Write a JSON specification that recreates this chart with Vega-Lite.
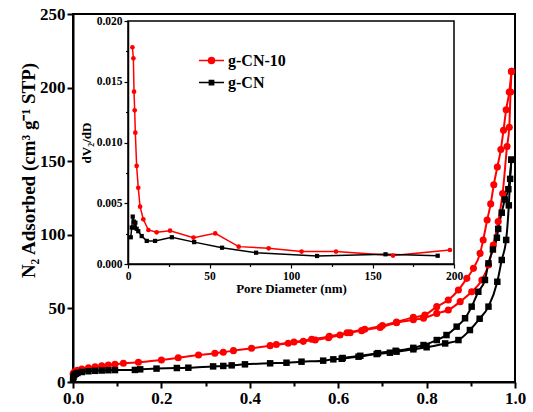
{
  "$schema": "https://vega.github.io/schema/vega-lite/v6.json",
  "width": 442,
  "height": 368,
  "autosize": {"type": "none"},
  "padding": {"left": 73, "top": 14, "right": 18, "bottom": 30},
  "background": "white",
  "config": {
    "font": "Liberation Serif",
    "view": {"stroke": "black", "strokeWidth": 2},
    "axis": {"grid": false, "domainColor": "black", "tickColor": "black", "labelColor": "black", "titleColor": "black", "labelFont": "Liberation Serif", "titleFont": "Liberation Serif", "labelFontWeight": "bold", "titleFontWeight": "bold", "labelFlush": false, "labelOverlap": false}
  },
  "datasets": {
    "iso": [
      {"sample": "g-CN-10", "branch": "ads", "P": 0.0003, "V": 5.5},
      {"sample": "g-CN-10", "branch": "ads", "P": 0.002, "V": 6.5},
      {"sample": "g-CN-10", "branch": "ads", "P": 0.005, "V": 7.3},
      {"sample": "g-CN-10", "branch": "ads", "P": 0.01, "V": 8},
      {"sample": "g-CN-10", "branch": "ads", "P": 0.02, "V": 8.8},
      {"sample": "g-CN-10", "branch": "ads", "P": 0.035, "V": 9.7},
      {"sample": "g-CN-10", "branch": "ads", "P": 0.05, "V": 10.4},
      {"sample": "g-CN-10", "branch": "ads", "P": 0.065, "V": 11},
      {"sample": "g-CN-10", "branch": "ads", "P": 0.08, "V": 11.5},
      {"sample": "g-CN-10", "branch": "ads", "P": 0.095, "V": 12},
      {"sample": "g-CN-10", "branch": "ads", "P": 0.114, "V": 12.7},
      {"sample": "g-CN-10", "branch": "ads", "P": 0.148, "V": 13.4},
      {"sample": "g-CN-10", "branch": "ads", "P": 0.2, "V": 14.9},
      {"sample": "g-CN-10", "branch": "ads", "P": 0.238, "V": 16.5},
      {"sample": "g-CN-10", "branch": "ads", "P": 0.284, "V": 18.3},
      {"sample": "g-CN-10", "branch": "ads", "P": 0.321, "V": 19.5},
      {"sample": "g-CN-10", "branch": "ads", "P": 0.34, "V": 20.2},
      {"sample": "g-CN-10", "branch": "ads", "P": 0.363, "V": 21.3},
      {"sample": "g-CN-10", "branch": "ads", "P": 0.404, "V": 22.9},
      {"sample": "g-CN-10", "branch": "ads", "P": 0.446, "V": 24.7},
      {"sample": "g-CN-10", "branch": "ads", "P": 0.487, "V": 26.3},
      {"sample": "g-CN-10", "branch": "ads", "P": 0.521, "V": 27.6},
      {"sample": "g-CN-10", "branch": "ads", "P": 0.548, "V": 28.5},
      {"sample": "g-CN-10", "branch": "ads", "P": 0.578, "V": 30.1},
      {"sample": "g-CN-10", "branch": "ads", "P": 0.604, "V": 31.9},
      {"sample": "g-CN-10", "branch": "ads", "P": 0.627, "V": 33.5},
      {"sample": "g-CN-10", "branch": "ads", "P": 0.653, "V": 34.9},
      {"sample": "g-CN-10", "branch": "ads", "P": 0.695, "V": 37.1},
      {"sample": "g-CN-10", "branch": "ads", "P": 0.732, "V": 40.3},
      {"sample": "g-CN-10", "branch": "ads", "P": 0.77, "V": 42.3},
      {"sample": "g-CN-10", "branch": "ads", "P": 0.793, "V": 43.3},
      {"sample": "g-CN-10", "branch": "ads", "P": 0.823, "V": 46.6},
      {"sample": "g-CN-10", "branch": "ads", "P": 0.849, "V": 48.9},
      {"sample": "g-CN-10", "branch": "ads", "P": 0.876, "V": 54.6},
      {"sample": "g-CN-10", "branch": "ads", "P": 0.902, "V": 61.3},
      {"sample": "g-CN-10", "branch": "ads", "P": 0.925, "V": 69.3},
      {"sample": "g-CN-10", "branch": "ads", "P": 0.94, "V": 79.5},
      {"sample": "g-CN-10", "branch": "ads", "P": 0.951, "V": 93},
      {"sample": "g-CN-10", "branch": "ads", "P": 0.962, "V": 109},
      {"sample": "g-CN-10", "branch": "ads", "P": 0.972, "V": 128},
      {"sample": "g-CN-10", "branch": "ads", "P": 0.982, "V": 160},
      {"sample": "g-CN-10", "branch": "ads", "P": 0.987, "V": 173},
      {"sample": "g-CN-10", "branch": "ads", "P": 0.99, "V": 197},
      {"sample": "g-CN-10", "branch": "ads", "P": 0.992, "V": 211},
      {"sample": "g-CN-10", "branch": "des", "P": 0.992, "V": 211},
      {"sample": "g-CN-10", "branch": "des", "P": 0.987, "V": 197},
      {"sample": "g-CN-10", "branch": "des", "P": 0.98, "V": 185},
      {"sample": "g-CN-10", "branch": "des", "P": 0.974, "V": 171},
      {"sample": "g-CN-10", "branch": "des", "P": 0.968, "V": 158},
      {"sample": "g-CN-10", "branch": "des", "P": 0.96, "V": 146},
      {"sample": "g-CN-10", "branch": "des", "P": 0.952, "V": 134},
      {"sample": "g-CN-10", "branch": "des", "P": 0.945, "V": 121},
      {"sample": "g-CN-10", "branch": "des", "P": 0.937, "V": 110},
      {"sample": "g-CN-10", "branch": "des", "P": 0.928, "V": 96.5},
      {"sample": "g-CN-10", "branch": "des", "P": 0.921, "V": 87.4},
      {"sample": "g-CN-10", "branch": "des", "P": 0.906, "V": 77.2},
      {"sample": "g-CN-10", "branch": "des", "P": 0.891, "V": 70.4},
      {"sample": "g-CN-10", "branch": "des", "P": 0.872, "V": 62.5},
      {"sample": "g-CN-10", "branch": "des", "P": 0.849, "V": 55.7},
      {"sample": "g-CN-10", "branch": "des", "P": 0.823, "V": 51.2},
      {"sample": "g-CN-10", "branch": "des", "P": 0.796, "V": 45.5},
      {"sample": "g-CN-10", "branch": "des", "P": 0.77, "V": 43.9},
      {"sample": "g-CN-10", "branch": "des", "P": 0.732, "V": 40.8},
      {"sample": "g-CN-10", "branch": "des", "P": 0.7, "V": 38.3},
      {"sample": "g-CN-10", "branch": "des", "P": 0.66, "V": 35.8},
      {"sample": "g-CN-10", "branch": "des", "P": 0.62, "V": 33.5},
      {"sample": "g-CN-10", "branch": "des", "P": 0.58, "V": 31},
      {"sample": "g-CN-10", "branch": "des", "P": 0.54, "V": 29},
      {"sample": "g-CN-10", "branch": "des", "P": 0.5, "V": 27.2},
      {"sample": "g-CN-10", "branch": "des", "P": 0.46, "V": 25.5},
      {"sample": "g-CN", "branch": "ads", "P": 0.0002, "V": 1.5},
      {"sample": "g-CN", "branch": "ads", "P": 0.001, "V": 3.5},
      {"sample": "g-CN", "branch": "ads", "P": 0.003, "V": 4.8},
      {"sample": "g-CN", "branch": "ads", "P": 0.006, "V": 5.6},
      {"sample": "g-CN", "branch": "ads", "P": 0.01, "V": 6.1},
      {"sample": "g-CN", "branch": "ads", "P": 0.02, "V": 6.8},
      {"sample": "g-CN", "branch": "ads", "P": 0.035, "V": 7.3},
      {"sample": "g-CN", "branch": "ads", "P": 0.05, "V": 7.6},
      {"sample": "g-CN", "branch": "ads", "P": 0.065, "V": 7.8},
      {"sample": "g-CN", "branch": "ads", "P": 0.08, "V": 8},
      {"sample": "g-CN", "branch": "ads", "P": 0.095, "V": 8.1},
      {"sample": "g-CN", "branch": "ads", "P": 0.14, "V": 8.2},
      {"sample": "g-CN", "branch": "ads", "P": 0.152, "V": 8.6},
      {"sample": "g-CN", "branch": "ads", "P": 0.189, "V": 9.1},
      {"sample": "g-CN", "branch": "ads", "P": 0.235, "V": 9.5},
      {"sample": "g-CN", "branch": "ads", "P": 0.261, "V": 9.7},
      {"sample": "g-CN", "branch": "ads", "P": 0.317, "V": 10.6},
      {"sample": "g-CN", "branch": "ads", "P": 0.34, "V": 10.9},
      {"sample": "g-CN", "branch": "ads", "P": 0.359, "V": 11.3},
      {"sample": "g-CN", "branch": "ads", "P": 0.389, "V": 12},
      {"sample": "g-CN", "branch": "ads", "P": 0.446, "V": 12.7},
      {"sample": "g-CN", "branch": "ads", "P": 0.483, "V": 13.1},
      {"sample": "g-CN", "branch": "ads", "P": 0.517, "V": 13.8},
      {"sample": "g-CN", "branch": "ads", "P": 0.566, "V": 14.5},
      {"sample": "g-CN", "branch": "ads", "P": 0.589, "V": 15.4},
      {"sample": "g-CN", "branch": "ads", "P": 0.608, "V": 15.8},
      {"sample": "g-CN", "branch": "ads", "P": 0.646, "V": 17.2},
      {"sample": "g-CN", "branch": "ads", "P": 0.687, "V": 19},
      {"sample": "g-CN", "branch": "ads", "P": 0.717, "V": 19.9},
      {"sample": "g-CN", "branch": "ads", "P": 0.732, "V": 20.6},
      {"sample": "g-CN", "branch": "ads", "P": 0.77, "V": 22.2},
      {"sample": "g-CN", "branch": "ads", "P": 0.8, "V": 23.6},
      {"sample": "g-CN", "branch": "ads", "P": 0.842, "V": 26.2},
      {"sample": "g-CN", "branch": "ads", "P": 0.872, "V": 28.5},
      {"sample": "g-CN", "branch": "ads", "P": 0.898, "V": 35.3},
      {"sample": "g-CN", "branch": "ads", "P": 0.92, "V": 43},
      {"sample": "g-CN", "branch": "ads", "P": 0.94, "V": 51.2},
      {"sample": "g-CN", "branch": "ads", "P": 0.96, "V": 68.1},
      {"sample": "g-CN", "branch": "ads", "P": 0.97, "V": 82.9},
      {"sample": "g-CN", "branch": "ads", "P": 0.98, "V": 96.5},
      {"sample": "g-CN", "branch": "ads", "P": 0.986, "V": 120},
      {"sample": "g-CN", "branch": "ads", "P": 0.989, "V": 138},
      {"sample": "g-CN", "branch": "ads", "P": 0.992, "V": 151},
      {"sample": "g-CN", "branch": "des", "P": 0.992, "V": 151},
      {"sample": "g-CN", "branch": "des", "P": 0.985, "V": 131},
      {"sample": "g-CN", "branch": "des", "P": 0.977, "V": 124},
      {"sample": "g-CN", "branch": "des", "P": 0.97, "V": 115},
      {"sample": "g-CN", "branch": "des", "P": 0.962, "V": 104},
      {"sample": "g-CN", "branch": "des", "P": 0.959, "V": 98},
      {"sample": "g-CN", "branch": "des", "P": 0.95, "V": 90},
      {"sample": "g-CN", "branch": "des", "P": 0.94, "V": 80.6},
      {"sample": "g-CN", "branch": "des", "P": 0.932, "V": 69.3},
      {"sample": "g-CN", "branch": "des", "P": 0.917, "V": 61.3},
      {"sample": "g-CN", "branch": "des", "P": 0.902, "V": 51.2},
      {"sample": "g-CN", "branch": "des", "P": 0.887, "V": 43.3},
      {"sample": "g-CN", "branch": "des", "P": 0.868, "V": 37.6},
      {"sample": "g-CN", "branch": "des", "P": 0.845, "V": 31.9},
      {"sample": "g-CN", "branch": "des", "P": 0.823, "V": 28.5},
      {"sample": "g-CN", "branch": "des", "P": 0.793, "V": 25.1},
      {"sample": "g-CN", "branch": "des", "P": 0.77, "V": 23.2},
      {"sample": "g-CN", "branch": "des", "P": 0.73, "V": 21.2},
      {"sample": "g-CN", "branch": "des", "P": 0.69, "V": 19.6},
      {"sample": "g-CN", "branch": "des", "P": 0.65, "V": 17.8},
      {"sample": "g-CN", "branch": "des", "P": 0.61, "V": 16.3}
    ],
    "pore": [
      {"sample": "g-CN-10", "D": 2.7, "dv": 0.01784},
      {"sample": "g-CN-10", "D": 3.3, "dv": 0.01693},
      {"sample": "g-CN-10", "D": 3.7, "dv": 0.01418},
      {"sample": "g-CN-10", "D": 4.1, "dv": 0.01265},
      {"sample": "g-CN-10", "D": 4.5, "dv": 0.01081},
      {"sample": "g-CN-10", "D": 5.3, "dv": 0.00807},
      {"sample": "g-CN-10", "D": 6.3, "dv": 0.00627},
      {"sample": "g-CN-10", "D": 7.4, "dv": 0.00472},
      {"sample": "g-CN-10", "D": 9.4, "dv": 0.00368},
      {"sample": "g-CN-10", "D": 12.5, "dv": 0.0028},
      {"sample": "g-CN-10", "D": 17.6, "dv": 0.00261},
      {"sample": "g-CN-10", "D": 25.8, "dv": 0.00274},
      {"sample": "g-CN-10", "D": 40.2, "dv": 0.00217},
      {"sample": "g-CN-10", "D": 53.5, "dv": 0.00252},
      {"sample": "g-CN-10", "D": 67.9, "dv": 0.00143},
      {"sample": "g-CN-10", "D": 86.3, "dv": 0.00129},
      {"sample": "g-CN-10", "D": 106.5, "dv": 0.00102},
      {"sample": "g-CN-10", "D": 127.6, "dv": 0.00102},
      {"sample": "g-CN-10", "D": 162.6, "dv": 0.00069},
      {"sample": "g-CN-10", "D": 197.5, "dv": 0.00115},
      {"sample": "g-CN", "D": 1.7, "dv": 0.0022},
      {"sample": "g-CN", "D": 2.3, "dv": 0.003},
      {"sample": "g-CN", "D": 2.9, "dv": 0.0039},
      {"sample": "g-CN", "D": 3.5, "dv": 0.0035},
      {"sample": "g-CN", "D": 4.0, "dv": 0.003},
      {"sample": "g-CN", "D": 4.5, "dv": 0.0034},
      {"sample": "g-CN", "D": 5.3, "dv": 0.0029},
      {"sample": "g-CN", "D": 6.3, "dv": 0.0027},
      {"sample": "g-CN", "D": 8.4, "dv": 0.0023},
      {"sample": "g-CN", "D": 11.5, "dv": 0.0019},
      {"sample": "g-CN", "D": 16.6, "dv": 0.0019},
      {"sample": "g-CN", "D": 26.9, "dv": 0.0022},
      {"sample": "g-CN", "D": 40.6, "dv": 0.0018},
      {"sample": "g-CN", "D": 57.7, "dv": 0.00134},
      {"sample": "g-CN", "D": 78.6, "dv": 0.00093},
      {"sample": "g-CN", "D": 116, "dv": 0.00066},
      {"sample": "g-CN", "D": 158, "dv": 0.0008},
      {"sample": "g-CN", "D": 190, "dv": 0.00068}
    ]
  },
  "layer": [
    {
      "data": {"name": "iso"},
      "layer": [
        {
          "mark": {"type": "line", "strokeWidth": 2, "interpolate": "monotone"},
          "encoding": {
            "x": {"field": "P", "type": "quantitative", "title": null,
              "scale": {"domain": [0, 1], "nice": false},
              "axis": {"values": [0, 0.1, 0.2, 0.3, 0.4, 0.5, 0.6, 0.7, 0.8, 0.9, 1.0],
                "labelExpr": "round(datum.value*10)%2==0 ? format(datum.value,'.1f') : ''",
                "tickSize": {"condition": {"test": "round(datum.value*10)%2==0", "value": 6}, "value": 4},
                "tickWidth": 2, "domainWidth": 2, "labelFontSize": 17, "labelPadding": 2}},
            "y": {"field": "V", "type": "quantitative", "title": "N₂ Adsorbed (cm³ g⁻¹ STP)",
              "scale": {"domain": [0, 250], "nice": false},
              "axis": {"values": [0, 25, 50, 75, 100, 125, 150, 175, 200, 225, 250],
                "labelExpr": "datum.value % 50 == 0 ? format(datum.value,'d') : ''",
                "tickSize": {"condition": {"test": "datum.value % 50 == 0", "value": 6}, "value": 4},
                "tickWidth": 2, "domainWidth": 2, "labelFontSize": 17, "labelPadding": 2,
                "titleFontSize": 19, "titleX": -45, "titleY": 156, "titleAngle": -90, "titleAlign": "center", "titleBaseline": "middle"}},
            "color": {"field": "sample", "type": "nominal",
              "scale": {"domain": ["g-CN-10", "g-CN"], "range": ["#ff0000", "#000000"]},
              "legend": {"orient": "none", "legendX": 125, "legendY": 33, "title": null,
                "symbolSize": 625, "labelFontSize": 16, "labelFont": "Liberation Serif", "labelFontWeight": "bold", "labelColor": "black",
                "labelOffset": 3, "rowPadding": -7,
                "encode": {"symbols": {"update": {
                  "shape": {"signal": "datum.value === 'g-CN' ? 'M-1,0H1M-0.17,-0.17H0.17V0.17H-0.17Z' : 'M-1,0H1M0.24,0A0.24,0.24 0 1,1 -0.24,0A0.24,0.24 0 1,1 0.24,0Z'"},
                  "fill": {"signal": "datum.value === 'g-CN' ? '#000000' : '#ff0000'"},
                  "stroke": {"signal": "datum.value === 'g-CN' ? '#000000' : '#ff0000'"},
                  "strokeWidth": {"value": 1.5},
                  "opacity": {"value": 1}, "fillOpacity": {"value": 1}, "strokeOpacity": {"value": 1}}}}}},
            "detail": {"field": "branch", "type": "nominal"}
          }
        },
        {
          "transform": [{"filter": "datum.sample == 'g-CN-10'"}],
          "mark": {"type": "point", "shape": "circle", "filled": true, "size": 50, "opacity": 1},
          "encoding": {
            "x": {"field": "P", "type": "quantitative", "title": null},
            "y": {"field": "V", "type": "quantitative", "title": "N₂ Adsorbed (cm³ g⁻¹ STP)"},
            "color": {"field": "sample", "type": "nominal"}
          }
        },
        {
          "transform": [{"filter": "datum.sample == 'g-CN'"}],
          "mark": {"type": "point", "shape": "square", "filled": true, "size": 42, "opacity": 1},
          "encoding": {
            "x": {"field": "P", "type": "quantitative", "title": null},
            "y": {"field": "V", "type": "quantitative", "title": "N₂ Adsorbed (cm³ g⁻¹ STP)"},
            "color": {"field": "sample", "type": "nominal"}
          }
        }
      ]
    },
    {
      "layer": [
        {
          "data": {"values": [{}]},
          "mark": {"type": "rect", "fill": null, "fillOpacity": 0, "stroke": "black", "strokeWidth": 1.5},
          "encoding": {
            "x": {"datum": 0, "type": "quantitative"},
            "x2": {"datum": 200},
            "y": {"datum": 0, "type": "quantitative"},
            "y2": {"datum": 0.02}
          }
        },
        {
          "data": {"name": "pore"},
          "mark": {"type": "line", "strokeWidth": 1.5},
          "encoding": {
            "x": {"field": "D", "type": "quantitative", "title": "Pore Diameter (nm)",
              "scale": {"domain": [0, 200], "range": [55, 381], "nice": false},
              "axis": {"orient": "bottom", "offset": -118,
                "values": [0, 25, 50, 75, 100, 125, 150, 175, 200],
                "labelExpr": "datum.value % 50 == 0 ? format(datum.value,'d') : ''",
                "tickSize": {"condition": {"test": "datum.value % 50 == 0", "value": 4}, "value": 2.5},
                "tickWidth": 1.2, "domainWidth": 1.5, "labelFontSize": 11.5, "labelPadding": 2,
                "titleFontSize": 13, "titlePadding": 1}},
            "y": {"field": "dv", "type": "quantitative", "title": "dV₂/dD",
              "scale": {"domain": [0, 0.02], "range": [250, 7], "nice": false},
              "axis": {"orient": "left", "offset": -55,
                "values": [0, 0.0025, 0.005, 0.0075, 0.01, 0.0125, 0.015, 0.0175, 0.02],
                "labelExpr": "round(datum.value*400)%2==0 ? format(datum.value,'.3f') : ''",
                "tickSize": {"condition": {"test": "round(datum.value*400)%2==0", "value": 4}, "value": 2.5},
                "tickWidth": 1.2, "domainWidth": 1.5, "labelFontSize": 11.5, "labelPadding": 2,
                "titleFontSize": 13, "titlePadding": 3}},
            "color": {"field": "sample", "type": "nominal"}
          }
        },
        {
          "data": {"name": "pore"},
          "transform": [{"filter": "datum.sample == 'g-CN-10'"}],
          "mark": {"type": "point", "shape": "circle", "filled": true, "size": 22, "opacity": 1},
          "encoding": {
            "x": {"field": "D", "type": "quantitative", "title": "Pore Diameter (nm)"},
            "y": {"field": "dv", "type": "quantitative", "title": "dV₂/dD"},
            "color": {"field": "sample", "type": "nominal"}
          }
        },
        {
          "data": {"name": "pore"},
          "transform": [{"filter": "datum.sample == 'g-CN'"}],
          "mark": {"type": "point", "shape": "square", "filled": true, "size": 18, "opacity": 1},
          "encoding": {
            "x": {"field": "D", "type": "quantitative", "title": "Pore Diameter (nm)"},
            "y": {"field": "dv", "type": "quantitative", "title": "dV₂/dD"},
            "color": {"field": "sample", "type": "nominal"}
          }
        }
      ]
    }
  ],
  "resolve": {
    "scale": {"x": "independent", "y": "independent"},
    "axis": {"x": "independent", "y": "independent"}
  }
}
